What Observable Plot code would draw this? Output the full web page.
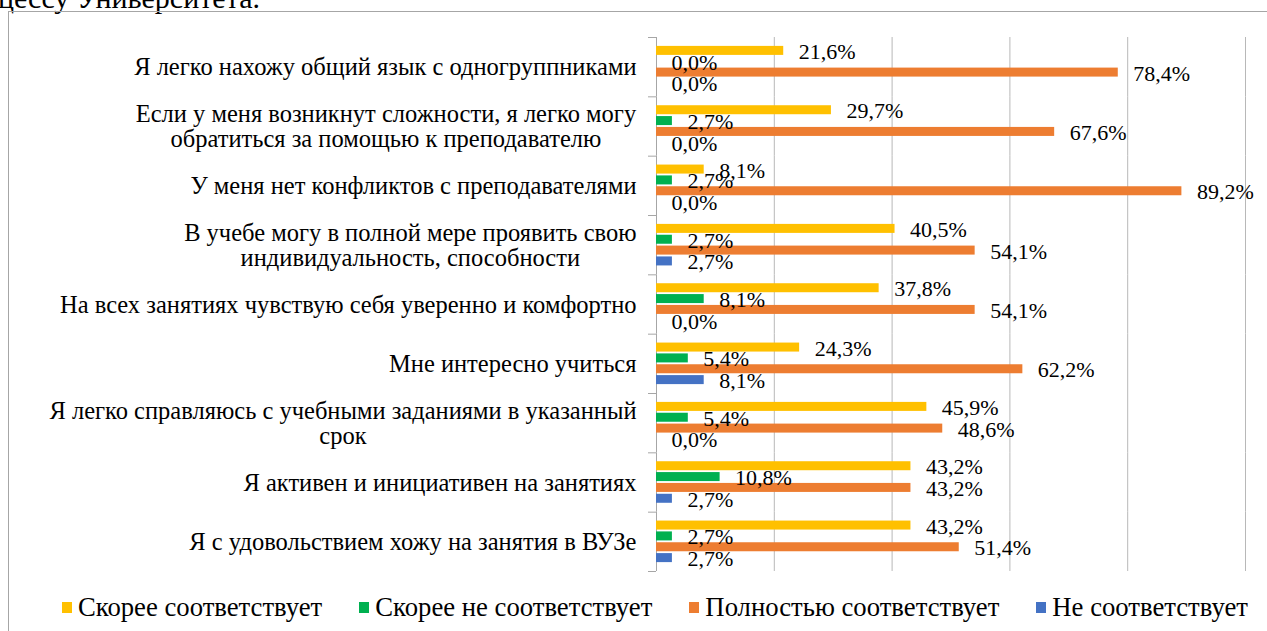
<!DOCTYPE html>
<html><head><meta charset="utf-8">
<script src="https://cdn.jsdelivr.net/npm/d3@7"></script>
<script src="https://cdn.jsdelivr.net/npm/@observablehq/plot@0.6"></script>
<style>
body{margin:0;background:#fff;overflow:hidden;font-family:"Liberation Serif","Times New Roman",serif;}
#wrap{position:relative;width:1267px;height:631px;overflow:hidden;background:#fff;}
#prev{position:absolute;left:-2px;top:-17px;font-size:30px;line-height:30px;color:#000;white-space:nowrap;}
#box{position:absolute;left:8px;top:11px;width:1270px;height:640px;border:1px solid #a6a6a6;box-sizing:border-box;}
#chart{position:absolute;left:0;top:0;}
#legend{position:absolute;left:62px;top:592px;display:flex;gap:37px;font-size:26.7px;line-height:30px;color:#000;white-space:nowrap;}
#legend .it{display:flex;align-items:center;}
#legend .sw{width:10px;height:11px;margin-right:6px;}
</style></head><body>
<div id="wrap">
  <div id="prev">цессу Университета.</div>
  <div id="box"></div>
  <div id="chart"></div>
  <div id="legend"></div>
</div>
<script>
const categories = [
  "Я легко нахожу общий язык с одногруппниками",
  "Если у меня возникнут сложности, я легко могу\nобратиться за помощью к преподавателю",
  "У меня нет конфликтов с преподавателями",
  "В учебе могу в полной мере проявить свою\nиндивидуальность, способности",
  "На всех занятиях чувствую себя уверенно и комфортно",
  "Мне интересно учиться",
  "Я легко справляюсь с учебными заданиями в указанный\nсрок",
  "Я активен и инициативен на занятиях",
  "Я с удовольствием хожу на занятия в ВУЗе"
];
const series = ["Скорее соответствует", "Скорее не соответствует", "Полностью соответствует", "Не соответствует"];
const colors = ["#FFC000", "#00B050", "#ED7D31", "#4472C4"];
const valuesSkoree   = [21.6, 29.7, 8.1, 40.5, 37.8, 24.3, 45.9, 43.2, 43.2];
const valuesSkoreeNe = [0.0, 2.7, 2.7, 2.7, 8.1, 5.4, 5.4, 10.8, 2.7];
const valuesPolno    = [78.4, 67.6, 89.2, 54.1, 54.1, 62.2, 48.6, 43.2, 51.4];
const valuesNe       = [0.0, 0.0, 0.0, 2.7, 0.0, 8.1, 0.0, 2.7, 2.7];
const gridTicks = [0, 20, 40, 60, 80, 100];

const seriesValues = [valuesSkoree, valuesSkoreeNe, valuesPolno, valuesNe];
const rows = categories.flatMap((c, i) => series.map((s, j) => ({category: c, series: s, value: seriesValues[j][i]})));
const fmt = v => d3.format(".1f")(v).replace(".", ",") + "%";

const W = 1267, H = 590, mT = 37, mB = 19, mL = 656, mR = 22;
const band = (H - mT - mB) / categories.length;
const axisColor = "#a6a6a6";

const chart = Plot.plot({
  width: W, height: H, marginTop: mT, marginBottom: mB, marginLeft: mL, marginRight: mR,
  style: {fontFamily: "'Liberation Serif','Times New Roman',serif", fontSize: "22px", color: "#000", background: "transparent", overflow: "visible"},
  x: {domain: [gridTicks[0], gridTicks[gridTicks.length - 1]], axis: null},
  y: {domain: series, axis: null, paddingInner: 0.17, paddingOuter: 0.82, round: false},
  fy: {domain: categories, padding: 0, round: false},
  color: {domain: series, range: colors},
  marks: [
    Plot.gridX(gridTicks.slice(1), {stroke: "#b8b8b8", strokeOpacity: 1}),
    Plot.ruleX([gridTicks[0]], {stroke: axisColor}),
    Plot.axisFy({anchor: "left", tickSize: 8, tickFormat: () => "", stroke: axisColor, strokeOpacity: 1, dy: -band / 2, label: null}),
    Plot.axisFy({anchor: "left", ticks: [categories[categories.length - 1]], tickSize: 8, tickFormat: () => "", stroke: axisColor, strokeOpacity: 1, dy: band / 2, label: null}),
    Plot.barX(rows, {x: "value", y: "series", fy: "category", fill: "series"}),
    Plot.text(rows, {x: "value", y: "series", fy: "category", text: d => fmt(d.value), textAnchor: "start", dx: 15, dy: 1, fill: "#000", fontSize: 22}),
    Plot.text(categories, {fy: d => d, text: d => d, frameAnchor: "left", textAnchor: "middle", dx: -20, lineHeight: 1.02, fill: "#000", fontSize: 24.5, className: "catlabel", ariaLabel: () => "catlabel"})
  ]
});
document.getElementById("chart").appendChild(chart);

// right-align the (centered) label blocks against the axis
const labelEls = new Set([...chart.querySelectorAll('text[aria-label="catlabel"], g.catlabel text, g[aria-label="catlabel"] text')]);
labelEls.forEach(t => {
  const w = t.getBBox().width;
  const tr = t.getAttribute("transform") || "";
  t.setAttribute("transform", tr + ` translate(${-w / 2},0)`);
});

const legend = document.getElementById("legend");
series.forEach((s, i) => {
  const it = document.createElement("div"); it.className = "it";
  const sw = document.createElement("div"); sw.className = "sw"; sw.style.background = colors[i];
  const tx = document.createElement("span"); tx.textContent = s;
  it.appendChild(sw); it.appendChild(tx); legend.appendChild(it);
});
</script>
</body></html>
